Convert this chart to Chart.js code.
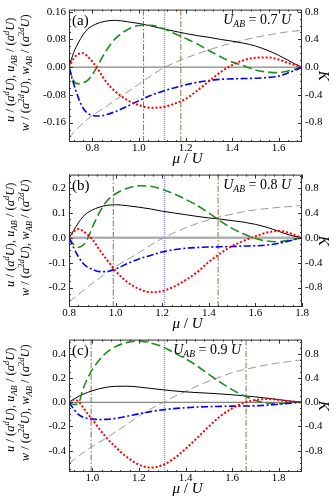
<!DOCTYPE html>
<html>
<head>
<meta charset="utf-8">
<script src="https://cdn.jsdelivr.net/npm/chart.js@4.4.1/dist/chart.umd.min.js"></script>
<style>
  html, body { margin: 0; padding: 0; background: #fff; }
  .page { position: relative; width: 336px; height: 503px; overflow: hidden; }
  .panel { position: absolute; left: 0; width: 336px; }
</style>
</head>
<body>
<div class="page">
  <div class="panel" style="top:0; height:172px"><canvas id="chartA"></canvas></div>
  <div class="panel" style="top:165px; height:172px"><canvas id="chartB"></canvas></div>
  <div class="panel" style="top:330px; height:173px"><canvas id="chartC"></canvas></div>
</div>
<script>
// ---- panel (a), U_AB = 0.7 U ----
const muA = [0.70, 0.72, 0.74, 0.76, 0.78, 0.80, 0.83, 0.86, 0.90, 0.95, 1.00, 1.05, 1.10, 1.15, 1.20, 1.25, 1.30, 1.35, 1.40, 1.45, 1.50, 1.55, 1.60, 1.64, 1.67, 1.70];
const blackA = [0, 0.042, 0.070, 0.093, 0.110, 0.119, 0.128, 0.133, 0.135, 0.131, 0.126, 0.119, 0.111, 0.104, 0.097, 0.091, 0.086, 0.080, 0.075, 0.069, 0.061, 0.049, 0.034, 0.020, 0.009, 0];
const greenA = [0, -0.040, -0.048, -0.045, -0.038, -0.022, 0.013, 0.048, 0.083, 0.108, 0.120, 0.121, 0.112, 0.098, 0.083, 0.067, 0.048, 0.030, 0.015, 0.004, -0.008, -0.014, -0.016, -0.011, -0.006, 0];
const redA = [0, 0.025, 0.038, 0.040, 0.031, 0.016, -0.012, -0.043, -0.071, -0.095, -0.110, -0.117, -0.116, -0.106, -0.092, -0.068, -0.041, -0.015, 0.006, 0.020, 0.027, 0.028, 0.022, 0.012, 0.006, 0];
const blueA = [0, -0.048, -0.088, -0.118, -0.133, -0.139, -0.141, -0.137, -0.128, -0.113, -0.097, -0.082, -0.070, -0.060, -0.051, -0.044, -0.039, -0.035, -0.034, -0.033, -0.032, -0.030, -0.026, -0.017, -0.009, 0];
const kA = [-1.02, -0.94, -0.87, -0.81, -0.75, -0.70, -0.63, -0.57, -0.47, -0.36, -0.245, -0.13, -0.02, 0.06, 0.13, 0.19, 0.25, 0.30, 0.35, 0.39, 0.43, 0.46, 0.49, 0.51, 0.52, 0.53];
const brownA = [1.02, 1.18];
const dottedA = [1.11];
const xTicksA = [0.8, 1.0, 1.2, 1.4, 1.6];
const yTicksA = [-0.16, -0.08, 0, 0.08, 0.16];
const kTicksA = [-0.8, -0.4, 0, 0.4, 0.8];

// ---- panel (b), U_AB = 0.8 U ----
const muB = [0.80, 0.82, 0.84, 0.86, 0.88, 0.90, 0.93, 0.96, 1.00, 1.05, 1.10, 1.15, 1.20, 1.25, 1.30, 1.35, 1.40, 1.45, 1.50, 1.55, 1.60, 1.65, 1.70, 1.74, 1.77, 1.80];
const blackB = [0, 0.030, 0.060, 0.085, 0.101, 0.112, 0.123, 0.130, 0.133, 0.129, 0.123, 0.116, 0.107, 0.100, 0.093, 0.086, 0.080, 0.075, 0.069, 0.063, 0.054, 0.042, 0.026, 0.013, 0.006, 0];
const greenB = [0, -0.027, -0.038, -0.030, -0.003, 0.042, 0.100, 0.145, 0.177, 0.199, 0.209, 0.207, 0.195, 0.177, 0.155, 0.130, 0.100, 0.067, 0.038, 0.015, -0.003, -0.013, -0.016, -0.010, -0.005, 0];
const redB = [0, 0.025, 0.035, 0.027, 0.012, -0.006, -0.047, -0.085, -0.133, -0.178, -0.205, -0.219, -0.214, -0.196, -0.170, -0.138, -0.097, -0.062, -0.033, -0.012, 0.006, 0.021, 0.028, 0.021, 0.011, 0];
const blueB = [0, -0.040, -0.075, -0.102, -0.118, -0.127, -0.136, -0.136, -0.125, -0.104, -0.085, -0.071, -0.057, -0.048, -0.042, -0.039, -0.037, -0.036, -0.035, -0.033, -0.032, -0.029, -0.022, -0.014, -0.007, 0];
const kB = [-1.03, -0.97, -0.91, -0.85, -0.79, -0.73, -0.65, -0.56, -0.46, -0.35, -0.24, -0.12, -0.01, 0.08, 0.16, 0.23, 0.29, 0.34, 0.38, 0.42, 0.45, 0.47, 0.49, 0.50, 0.51, 0.52];
const brownB = [0.99, 1.44];
const dottedB = [1.21];
const xTicksB = [0.8, 1.0, 1.2, 1.4, 1.6, 1.8];
const yTicksB = [-0.2, -0.1, 0, 0.1, 0.2];
const kTicksB = [-0.8, -0.4, 0, 0.4, 0.8];

// ---- panel (c), U_AB = 0.9 U ----
const muC = [0.90, 0.92, 0.94, 0.96, 0.98, 1.00, 1.03, 1.06, 1.10, 1.15, 1.20, 1.25, 1.30, 1.35, 1.40, 1.45, 1.50, 1.55, 1.60, 1.65, 1.70, 1.75, 1.80, 1.84, 1.87, 1.90];
const blackC = [0, 0.025, 0.048, 0.066, 0.082, 0.095, 0.112, 0.124, 0.132, 0.133, 0.126, 0.115, 0.104, 0.094, 0.086, 0.080, 0.075, 0.069, 0.062, 0.054, 0.045, 0.034, 0.022, 0.012, 0.006, 0];
const greenC = [0, -0.018, -0.010, 0.11, 0.20, 0.27, 0.35, 0.41, 0.46, 0.495, 0.505, 0.49, 0.46, 0.41, 0.36, 0.30, 0.23, 0.165, 0.105, 0.055, 0.015, -0.008, -0.012, -0.004, 0.002, 0];
const redC = [0, 0.022, 0.008, -0.040, -0.095, -0.140, -0.220, -0.290, -0.370, -0.455, -0.515, -0.540, -0.520, -0.465, -0.385, -0.295, -0.200, -0.115, -0.050, -0.005, 0.018, 0.027, 0.020, 0.010, 0.004, 0];
const blueC = [0, -0.055, -0.100, -0.123, -0.134, -0.139, -0.143, -0.141, -0.133, -0.115, -0.095, -0.077, -0.063, -0.052, -0.045, -0.039, -0.036, -0.034, -0.032, -0.031, -0.029, -0.024, -0.016, -0.009, -0.004, 0];
const kC = [-1.01, -0.95, -0.89, -0.84, -0.78, -0.73, -0.66, -0.59, -0.49, -0.36, -0.23, -0.11, -0.01, 0.09, 0.18, 0.27, 0.35, 0.42, 0.49, 0.54, 0.58, 0.62, 0.65, 0.67, 0.69, 0.70];
const brownC = [0.995, 1.66];
const dottedC = [1.31];
const xTicksC = [1.0, 1.2, 1.4, 1.6, 1.8];
const yTicksC = [-0.4, -0.2, 0, 0.2, 0.4];
const kTicksC = [-0.8, -0.4, 0, 0.4, 0.8];

const SERIF = '"Liberation Serif", "Times New Roman", serif';

// draws a line of text made of [text, flags] pieces: i = italic, p = superscript, b = subscript
function drawRich(ctx, segs, x, y, rot, size, align) {
  const small = size * 0.68;
  const fontOf = f => (f.includes('i') ? 'italic ' : '') + ((f.includes('p') || f.includes('b')) ? small : size) + 'px ' + SERIF;
  let total = 0;
  const widths = segs.map(([t, f]) => { ctx.font = fontOf(f); const w = ctx.measureText(t).width; total += w; return w; });
  ctx.save();
  ctx.translate(x, y);
  ctx.rotate(rot);
  ctx.fillStyle = '#000';
  ctx.textBaseline = 'alphabetic';
  ctx.textAlign = 'left';
  let cx = align === 'right' ? -total : -total / 2;
  segs.forEach(([t, f], i) => {
    ctx.font = fontOf(f);
    let dy = 0;
    if (f.includes('p')) dy = -size * 0.4;
    if (f.includes('b')) dy = size * 0.22;
    ctx.fillText(t, cx, size * 0.34 + dy);
    cx += widths[i];
  });
  ctx.restore();
  return total;
}

const leftLine1 = [['u', 'i'], [' / (', ''], ['a', 'i'], ['d', 'ip'], ['U', 'i'], ['), ', ''], ['u', 'i'], ['AB', 'ib'], [' / (', ''], ['a', 'i'], ['d', 'ip'], ['U', 'i'], [')', '']];
const leftLine2 = [['w', 'i'], [' / (', ''], ['a', 'i'], ['2', 'p'], ['d', 'ip'], ['U', 'i'], ['), ', ''], ['w', 'i'], ['AB', 'ib'], [' / (', ''], ['a', 'i'], ['2', 'p'], ['d', 'ip'], ['U', 'i'], [')', '']];
const muTitle = [['μ', 'i'], [' / ', ''], ['U', 'i']];

// frame, inward ticks and all the labels
const decorPlugin = {
  id: 'decor',
  afterDatasetsDraw(chart, args, o) {
    const { ctx, chartArea: a, scales } = chart;
    ctx.save();
    ctx.strokeStyle = '#333';
    ctx.lineWidth = 1;
    ctx.setLineDash([]);
    ctx.strokeRect(a.left + 0.5, a.top + 0.5, a.right - a.left - 1, a.bottom - a.top - 1);
    const mark = (scale, step, sub, side) => {
      const minor = step / sub;
      const start = Math.ceil(scale.min / minor - 1e-6);
      for (let j = start; j * minor <= scale.max + 1e-9; j++) {
        const v = j * minor;
        const major = Math.abs(v / step - Math.round(v / step)) < 1e-6;
        const len = major ? 4 : 2;
        const p = Math.round(scale.getPixelForValue(v)) + 0.5;
        ctx.beginPath();
        if (side === 'x') {
          ctx.moveTo(p, a.bottom); ctx.lineTo(p, a.bottom - len);
          ctx.moveTo(p, a.top); ctx.lineTo(p, a.top + len);
        } else if (side === 'y') {
          ctx.moveTo(a.left, p); ctx.lineTo(a.left + len, p);
        } else {
          ctx.moveTo(a.right, p); ctx.lineTo(a.right - len, p);
        }
        ctx.stroke();
      }
    };
    mark(scales.x, 0.2, 5, 'x');
    mark(scales.y, o.yStep, 4, 'y');
    mark(scales.k, 0.4, 4, 'k');
    ctx.restore();

    // panel letter and U_AB value
    ctx.save();
    ctx.fillStyle = '#000';
    ctx.font = '15px ' + SERIF;
    ctx.textBaseline = 'alphabetic';
    ctx.fillText(o.letter, a.left + 3, a.top + 15);
    ctx.restore();
    const uabLine = [['U', 'i'], ['AB', 'ib'], [' = ' + o.uab + ' ', ''], ['U', 'i']];
    drawRich(ctx, uabLine, o.uabRight, a.top + 10, 0, 14, 'right');

    // axis titles
    const cy = (a.top + a.bottom) / 2;
    drawRich(ctx, leftLine1, 10, cy - 6, -Math.PI / 2, 12.5);
    drawRich(ctx, leftLine2, 25, cy - 3, -Math.PI / 2, 12.5);
    drawRich(ctx, muTitle, (a.left + a.right) / 2 + 2, a.bottom + 16, 0, 15);
    drawRich(ctx, [['K', 'i']], a.right + 22, cy, Math.PI / 2, 15);
  }
};

function buildPanel(id, p) {
  const pts = (ys) => p.mu.map((m, i) => ({ x: m, y: ys[i] }));
  const curve = (ys, color, width, dash, axis, order) => ({
    data: pts(ys), borderColor: color, borderWidth: width, borderDash: dash,
    yAxisID: axis, pointRadius: 0, fill: false, cubicInterpolationMode: 'monotone', order
  });
  const vline = (v, color, width, dash) => ({
    data: [{ x: v, y: p.yRange[0] }, { x: v, y: p.yRange[1] }],
    borderColor: color, borderWidth: width, borderDash: dash, yAxisID: 'y', pointRadius: 0, order: 10
  });
  const datasets = [
    ...p.brown.map(v => vline(v, '#9a6b3f', 1, [6, 2, 1.5, 2])),
    ...p.dotted.map(v => vline(v, '#8a8aff', 1.3, [1, 1])),
    {
      data: [{ x: p.mu[0], y: 0 }, { x: p.mu[p.mu.length - 1], y: 0 }],
      borderColor: p.zeroColor, borderWidth: p.zeroWidth, yAxisID: 'y', pointRadius: 0, order: 9
    },
    curve(p.k, '#999999', 1, [8, 4], 'k', 6),
    curve(p.black, '#000000', 1, [], 'y', 4),
    curve(p.green, '#1e8c1e', 1.6, [9, 4], 'y', 3),
    curve(p.blue, '#0000ff', 1.6, [7, 2.5, 2, 2.5], 'y', 2),
    curve(p.red, '#ff0000', 2, [2, 2], 'y', 1)
  ];
  const fixedTicks = vals => (scale) => { scale.ticks = vals.map(v => ({ value: v })); };
  return new Chart(document.getElementById(id), {
    type: 'line',
    data: { datasets },
    plugins: [decorPlugin],
    options: {
      responsive: true,
      maintainAspectRatio: false,
      animation: false,
      layout: { padding: { top: 6, left: 0, right: 0, bottom: 0 } },
      plugins: {
        legend: { display: false },
        tooltip: { enabled: false },
        decor: { letter: p.letter, uab: p.uab, uabRight: p.uabRight, yStep: p.yStep }
      },
      scales: {
        x: {
          type: 'linear', min: p.mu[0], max: p.mu[p.mu.length - 1],
          afterBuildTicks: fixedTicks(p.xTicks),
          afterFit: s => { s.height = p.height - 142; },
          grid: { display: false, drawTicks: false },
          border: { display: false },
          ticks: { color: '#000', padding: 0, maxRotation: 0, font: { family: SERIF, size: 11 }, callback: v => v.toFixed(1) }
        },
        y: {
          type: 'linear', position: 'left', min: p.yRange[0], max: p.yRange[1],
          afterBuildTicks: fixedTicks(p.yTicks),
          afterFit: s => { s.width = 69; },
          grid: { display: false, drawTicks: false },
          border: { display: false },
          ticks: { color: '#000', padding: 3, font: { family: SERIF, size: 11 }, callback: v => v.toFixed(p.yDigits) }
        },
        k: {
          type: 'linear', position: 'right', min: p.yRange[0] * p.kFactor, max: p.yRange[1] * p.kFactor,
          afterBuildTicks: fixedTicks(p.kTicks),
          afterFit: s => { s.width = 34; },
          grid: { display: false, drawTicks: false },
          border: { display: false },
          ticks: { color: '#000', padding: 3, font: { family: SERIF, size: 11 }, callback: v => v.toFixed(1) }
        }
      }
    }
  });
}

buildPanel('chartA', {
  mu: muA, black: blackA, green: greenA, red: redA, blue: blueA, k: kA,
  brown: brownA, dotted: dottedA, xTicks: xTicksA, yTicks: yTicksA, kTicks: kTicksA,
  yRange: [-0.216, 0.166], kFactor: 5, yStep: 0.08, yDigits: 2, height: 172,
  zeroColor: '#666', zeroWidth: 1, letter: '(a)', uab: '0.7', uabRight: 291
});
buildPanel('chartB', {
  mu: muB, black: blackB, green: greenB, red: redB, blue: blueB, k: kB,
  brown: brownB, dotted: dottedB, xTicks: xTicksB, yTicks: yTicksB, kTicks: kTicksB,
  yRange: [-0.278, 0.254], kFactor: 4, yStep: 0.1, yDigits: 1, height: 172,
  zeroColor: '#b0b0b0', zeroWidth: 2.5, letter: '(b)', uab: '0.8', uabRight: 291
});
buildPanel('chartC', {
  mu: muC, black: blackC, green: greenC, red: redC, blue: blueC, k: kC,
  brown: brownC, dotted: dottedC, xTicks: xTicksC, yTicks: yTicksC, kTicks: kTicksC,
  yRange: [-0.576, 0.518], kFactor: 2, yStep: 0.2, yDigits: 1, height: 173,
  zeroColor: '#666', zeroWidth: 1, letter: '(c)', uab: '0.9', uabRight: 241
});
</script>
</body>
</html>
